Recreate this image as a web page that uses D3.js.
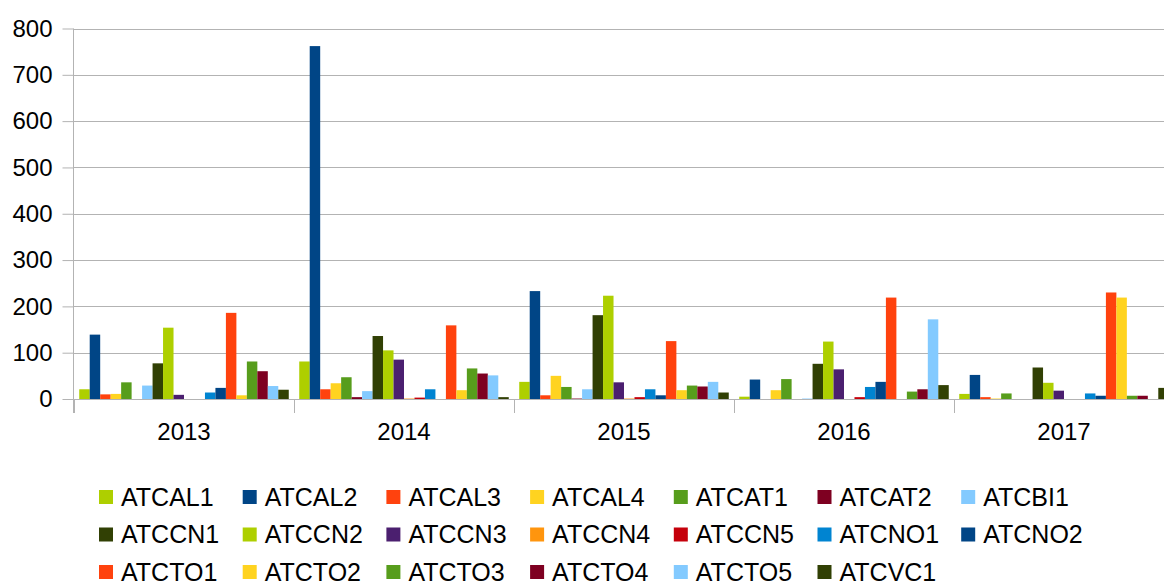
<!DOCTYPE html>
<html>
<head>
<meta charset="utf-8">
<script src="https://cdn.jsdelivr.net/npm/d3@7"></script>
<style>
  html, body { margin: 0; padding: 0; background: #fff; overflow: hidden; }
  svg { display: block; font-family: "Liberation Sans", Arial, sans-serif; }
</style>
</head>
<body>
<svg id="chart" width="1164" height="585"></svg>
<script>
// ── Datos ────────────────────────────────────────────────────────
const YEARS = ["2013", "2014", "2015", "2016", "2017"];
const SERIES = ["ATCAL1","ATCAL2","ATCAL3","ATCAL4","ATCAT1","ATCAT2","ATCBI1",
                "ATCCN1","ATCCN2","ATCCN3","ATCCN4","ATCCN5","ATCNO1","ATCNO2",
                "ATCTO1","ATCTO2","ATCTO3","ATCTO4","ATCTO5","ATCVC1"];
const COLORS = ["#aecf00","#004586","#ff420e","#ffd320","#579d1c","#7e0021","#83caff",
                "#314004","#aecf00","#4b1f6f","#ff950e","#c5000b","#0084d1","#004586",
                "#ff420e","#ffd320","#579d1c","#7e0021","#83caff","#314004"];
// one array per year, in SERIES order
const V2013 = [21, 139, 10, 11, 36, 0, 29, 77, 154, 9, 0, 0, 14, 24, 186, 8, 81, 60, 28, 20];
const V2014 = [81, 762, 21, 34, 47, 4, 17, 136, 105, 85, 1, 3, 21, 0, 159, 19, 66, 55, 51, 4];
const V2015 = [37, 233, 8, 50, 26, 1, 21, 181, 223, 36, 1, 4, 21, 8, 125, 19, 29, 27, 37, 14];
const V2016 = [5, 42, 0, 19, 43, 0, 1, 76, 124, 64, 0, 4, 26, 37, 219, 0, 16, 21, 172, 30];
const V2017 = [11, 52, 4, 1, 12, 0, 0, 68, 35, 18, 0, 0, 12, 7, 230, 219, 7, 7, 0, 24];
const VALUES = [V2013, V2014, V2015, V2016, V2017];
const Y_TICKS = [0, 100, 200, 300, 400, 500, 600, 700, 800];

// ── Escalas ──────────────────────────────────────────────────────
const svg = d3.select("#chart");
const GRID = "#b3b3b3";
const FONT = 24;

const x = d3.scaleBand().domain(YEARS).range([74, 1174]).padding(0);
const xs = d3.scaleBand().domain(SERIES).range([0, x.bandwidth()])
  .paddingInner(0).paddingOuter(0.5);
const y = d3.scaleLinear().domain([0, 800]).range([399, 28.5]);
const color = d3.scaleOrdinal().domain(SERIES).range(COLORS);

// ── Rejilla ──────────────────────────────────────────────────────
svg.append("g").selectAll("line")
  .data(Y_TICKS.filter(t => t > 0))
  .join("line")
  .attr("x1", 74).attr("x2", 1174)
  .attr("y1", d => Math.round(y(d)) + 0.5).attr("y2", d => Math.round(y(d)) + 0.5)
  .attr("stroke", GRID).attr("stroke-width", 1);

// ── Barras ───────────────────────────────────────────────────────
const groups = svg.append("g").selectAll("g")
  .data(YEARS.map((yr, i) => ({ yr, vals: VALUES[i] })))
  .join("g")
  .attr("transform", d => `translate(${x(d.yr)},0)`);

groups.selectAll("rect")
  .data(d => d.vals.map((v, i) => ({ name: SERIES[i], v })))
  .join("rect")
  .attr("x", d => xs(d.name))
  .attr("width", xs.bandwidth())
  .attr("y", d => y(d.v))
  .attr("height", d => y(0) - y(d.v))
  .attr("fill", d => color(d.name));

// ── Ejes ─────────────────────────────────────────────────────────
const yAxis = svg.append("g")
  .attr("transform", "translate(73.5,0)")
  .call(d3.axisLeft(y).tickValues(Y_TICKS).tickSize(11).tickPadding(10));
yAxis.select(".domain").remove();
yAxis.selectAll(".tick line").attr("stroke", GRID);
yAxis.selectAll("text").attr("font-size", FONT).attr("fill", "#000")
  .attr("font-family", "Liberation Sans, Arial, sans-serif");
svg.append("line")
  .attr("x1", 73.5).attr("x2", 73.5).attr("y1", y(800)).attr("y2", 413)
  .attr("stroke", GRID);

svg.append("line")
  .attr("x1", 74).attr("x2", 1174).attr("y1", 399.5).attr("y2", 399.5)
  .attr("stroke", GRID);

svg.append("g").selectAll("line")
  .data(YEARS.concat(["end"]))
  .join("line")
  .attr("x1", (d, i) => Math.round(74 + i * x.step()) + 0.5)
  .attr("x2", (d, i) => Math.round(74 + i * x.step()) + 0.5)
  .attr("y1", 399).attr("y2", 413)
  .attr("stroke", GRID);

svg.append("g").selectAll("text")
  .data(YEARS)
  .join("text")
  .attr("x", d => x(d) + x.bandwidth() / 2)
  .attr("y", 440)
  .attr("text-anchor", "middle")
  .attr("font-size", FONT)
  .text(d => d);

// ── Leyenda ──────────────────────────────────────────────────────
const COLS = 7, COL_W = 143.7, ROW_H = 37.5;
const legend = svg.append("g").attr("transform", "translate(98,497)");
const item = legend.selectAll("g")
  .data(SERIES)
  .join("g")
  .attr("transform", (d, i) => `translate(${(i % COLS) * COL_W},${Math.floor(i / COLS) * ROW_H})`);
item.append("rect")
  .attr("x", 1).attr("y", -7).attr("width", 14).attr("height", 14)
  .attr("fill", d => color(d));
item.append("text")
  .attr("x", 23).attr("y", 0)
  .attr("dy", "0.35em")
  .attr("font-size", 25)
  .text(d => d);
</script>
</body>
</html>
